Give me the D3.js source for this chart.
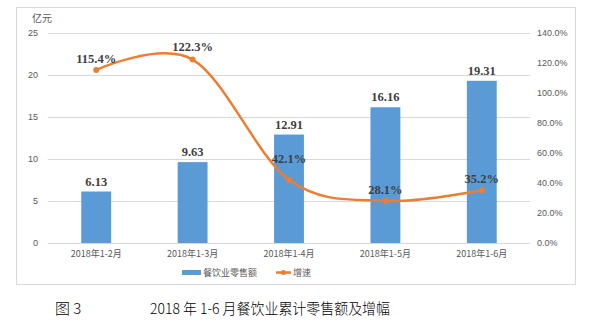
<!DOCTYPE html>
<html><head><meta charset="utf-8">
<script src="https://cdn.jsdelivr.net/npm/d3@7"></script>
<style>body{margin:0;background:#fff}svg{display:block}</style>
</head><body>
<script>
const categories = ["2018年1-2月","2018年1-3月","2018年1-4月","2018年1-5月","2018年1-6月"];
const salesValues = [6.13, 9.63, 12.91, 16.16, 19.31];
const growthValues = [115.4, 122.3, 42.1, 28.1, 35.2];
const leftTicks = [0,5,10,15,20,25];
const rightTicks = [0,20,40,60,80,100,120,140];
const seriesNames = ["餐饮业零售额","增速"];

const W=599,H=328;
const svg=d3.select("body").append("svg").attr("width",W).attr("height",H);
const m={l:48,r:530,t:33,b:243};
const x=d3.scaleBand().domain(categories).range([m.l,m.r]).paddingInner(0.69).paddingOuter(0.345);
const yL=d3.scaleLinear().domain([0,25]).range([m.b,m.t]);
const yR=d3.scaleLinear().domain([0,140]).range([m.b,m.t]);
const cx=d=>x(d)+x.bandwidth()/2;

svg.append("rect").attr("x",16.5).attr("y",7.5).attr("width",559).attr("height",277)
  .attr("fill","#fff").attr("stroke","#d9d9d9");

svg.append("g").selectAll("line").data(leftTicks).join("line")
  .attr("x1",m.l).attr("x2",m.r).attr("y1",d=>Math.round(yL(d))+0.5).attr("y2",d=>Math.round(yL(d))+0.5)
  .attr("stroke","#d9d9d9").attr("stroke-width",1);

const tickFont="'Liberation Sans', Arial, sans-serif";
const cjkFont="'Noto Sans CJK SC', sans-serif";
const gl=svg.append("g").attr("transform",`translate(${m.l-10},0)`)
  .call(d3.axisLeft(yL).tickValues(leftTicks).tickSize(0).tickPadding(0));
gl.select(".domain").remove();
gl.selectAll("text").attr("fill","#595959").attr("font-size",9).attr("font-family",tickFont);
const gr=svg.append("g").attr("transform",`translate(${m.r+7},0)`)
  .call(d3.axisRight(yR).tickValues(rightTicks).tickSize(0).tickPadding(0).tickFormat(d=>d.toFixed(1)+"%"));
gr.select(".domain").remove();
gr.selectAll("text").attr("fill","#595959").attr("font-size",9).attr("font-family",tickFont);
const gx=svg.append("g").attr("transform",`translate(0,${m.b})`)
  .call(d3.axisBottom(x).tickSize(0).tickPadding(8));
gx.select(".domain").remove();
gx.selectAll("text").attr("fill","#595959").attr("font-size",9).attr("font-family",cjkFont);

svg.append("text").attr("x",32).attr("y",22).text("亿元").attr("fill","#595959")
  .attr("font-size",10).attr("font-family",cjkFont);

svg.append("g").selectAll("rect").data(salesValues).join("rect")
  .attr("x",(d,i)=>x(categories[i])).attr("width",x.bandwidth())
  .attr("y",d=>yL(d)).attr("height",d=>yL(0)-yL(d)).attr("fill","#5b9bd5");

const labelFont="'Liberation Serif', 'DejaVu Serif', serif";
svg.append("g").selectAll("text").data(salesValues).join("text")
  .attr("x",(d,i)=>cx(categories[i])).attr("y",d=>yL(d)-6)
  .attr("text-anchor","middle").attr("font-size",12.5).attr("font-weight","bold")
  .style("font-family",labelFont).attr("fill","#404040").text(d=>d.toFixed(2));

const line=d3.line().x((d,i)=>cx(categories[i])).y(d=>yR(d)).curve(d3.curveCatmullRom.alpha(0));
svg.append("path").datum(growthValues).attr("d",line).attr("fill","none")
  .attr("stroke","#ed7d31").attr("stroke-width",2.5);
svg.append("g").selectAll("circle").data(growthValues).join("circle")
  .attr("cx",(d,i)=>cx(categories[i])).attr("cy",d=>yR(d)).attr("r",3).attr("fill","#ed7d31");

const gOff=[[0,-7],[0,-9],[0,-17],[0,-7],[0,-7]];
svg.append("g").selectAll("text").data(growthValues).join("text")
  .attr("x",(d,i)=>cx(categories[i])+gOff[i][0]).attr("y",(d,i)=>yR(d)+gOff[i][1])
  .attr("text-anchor","middle").attr("font-size",12.5).attr("font-weight","bold")
  .style("font-family",labelFont).attr("fill","#404040").text(d=>d.toFixed(1)+"%");

const lg=svg.append("g");
lg.append("rect").attr("x",182).attr("y",270).attr("width",19).attr("height",5).attr("fill","#5b9bd5");
lg.append("text").attr("x",203).attr("y",276).text(seriesNames[0]).attr("font-size",9).attr("fill","#595959")
  .attr("font-family",cjkFont);
lg.append("line").attr("x1",276).attr("x2",291).attr("y1",272.5).attr("y2",272.5).attr("stroke","#ed7d31").attr("stroke-width",2.5);
lg.append("circle").attr("cx",283.5).attr("cy",272.5).attr("r",2.5).attr("fill","#ed7d31");
lg.append("text").attr("x",293).attr("y",276).text(seriesNames[1]).attr("font-size",9).attr("fill","#595959")
  .attr("font-family",cjkFont);

svg.append("text").attr("x",55).attr("y",314).text("图 3").attr("font-size",15)
  .attr("font-family",cjkFont).attr("font-weight",300).attr("fill","#000");
svg.append("text").attr("x",150).attr("y",314).text("2018 年 1-6 月餐饮业累计零售额及增幅").attr("font-size",15)
  .attr("font-family",cjkFont).attr("font-weight",300).attr("fill","#000")
  .attr("textLength",240).attr("lengthAdjust","spacingAndGlyphs");
</script>
</body></html>
